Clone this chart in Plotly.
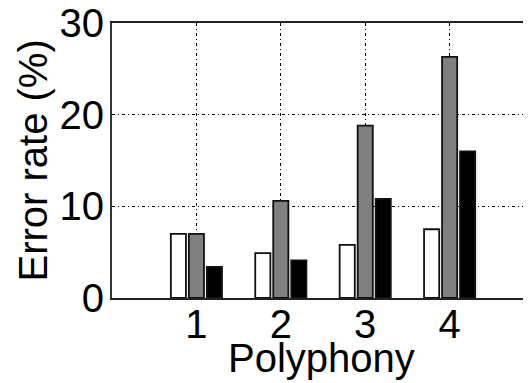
import plotly.graph_objects as go

categories = [1, 2, 3, 4]
series_white = [7.0, 4.9, 5.8, 7.5]
series_gray = [7.0, 10.6, 18.8, 26.3]
series_black = [3.4, 4.1, 10.8, 16.0]
y_ticks = [0, 10, 20, 30]

fig = go.Figure()
for vals, col in [(series_white, "white"), (series_gray, "#808080"), (series_black, "black")]:
    fig.add_trace(go.Bar(x=categories, y=vals, marker=dict(color=col, line=dict(color="#111", width=1.8)),
                         showlegend=False))

FONT = "Liberation Sans, Arial, sans-serif"
FS = 40
grid = dict(showgrid=True, gridcolor="black", gridwidth=1, griddash="3px,3px,1px,3px")
# page body has an 8px default margin; figure occupies 8..531 x 8..383
fig.update_layout(
    width=523, height=375,
    margin=dict(l=104, r=0, t=15, b=85, autoexpand=False),
    plot_bgcolor="white", paper_bgcolor="white",
    barmode="group", bargap=0.36, bargroupgap=0.16,
    font=dict(family=FONT, size=FS, color="black"),
    xaxis=dict(range=[0, 4.964], tickvals=categories, ticktext=[str(c) for c in categories],
               showline=True, linecolor="#222", linewidth=2, mirror=True, ticks="",
               ticklabelstandoff=-10, ticklabeloverflow="allow",
               zeroline=False, automargin=False, **grid),
    yaxis=dict(range=[0, 30], tickvals=y_ticks, showline=True, linecolor="#333", linewidth=2,
               ticks="", zeroline=False, automargin=False, ticklabelstandoff=-2,
               ticklabeloverflow="allow", **grid),
    annotations=[
        dict(text="Polyphony", xref="paper", yref="paper", x=0.5, y=0, yshift=-60,
             xanchor="center", yanchor="middle", showarrow=False, font=dict(size=FS)),
        dict(text="Error rate (%)", xref="paper", yref="paper", x=0, xshift=-80, y=0.5,
             textangle=-90, xanchor="center", yanchor="middle", showarrow=False, font=dict(size=FS)),
    ],
)
fig.write_html("out.html")
